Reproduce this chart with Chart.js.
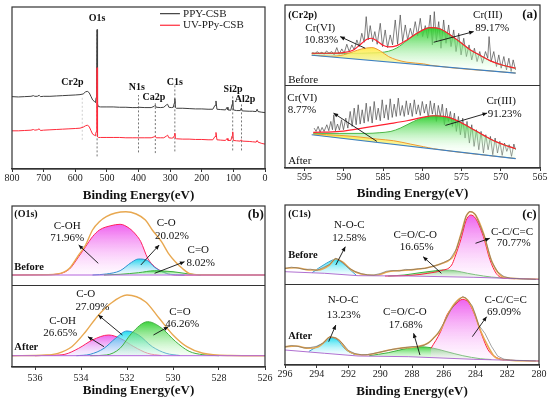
<!DOCTYPE html>
<html>
<head>
<meta charset="utf-8">
<script src="https://cdn.jsdelivr.net/npm/chart.js@4.4.0/dist/chart.umd.min.js"></script>
<style>
  html, body { margin: 0; padding: 0; background: #fff; }
  #wrap { position: relative; width: 550px; height: 403px; }
  #wrap canvas { position: absolute; left: 0; top: 0; }
</style>
</head>
<body>
<div id="wrap">
  <canvas id="survey" width="550" height="403"></canvas>
  <canvas id="cr2p" width="550" height="403"></canvas>
  <canvas id="o1s" width="550" height="403"></canvas>
  <canvas id="c1s" width="550" height="403"></canvas>
</div>
<script>
// ---- survey spectrum ----
const surveyEv = [800,780,760,740,732,728,720,714,710,700,680,660,640,620,600,585,575,568,562,556,550,545,540,536,534,532,531,530,529,527,520,500,480,460,440,420,405,400,380,360,350,347,344,330,320,312,308,304,296,290,287,285,283,280,260,240,220,200,180,165,158,155,152,140,125,120,117,108,104,102,100,90,78,75,72,50,40,28,25,22,10,0];
const ppyCsb = [218,217,218,219,221,219,219,222,218,219,219,220,221,222,223,224,226,232,234,230,218,208,204,200,215,320,420,300,196,188,187,187,187,186,186,185,185,186,185,185,189,192,186,185,186,193,195,186,185,186,198,212,185,183,183,182,181,181,180,180,192,205,180,179,178,186,178,177,195,207,178,176,176,183,175,174,174,173,180,173,171,170];
const uvPpyCsb = [115,115,116,117,119,117,118,121,116,117,118,119,120,121,122,123,126,130,132,128,115,105,102,100,112,210,305,200,97,95,95,95,95,95,94,94,94,94,94,94,97,99,94,94,94,99,102,94,93,94,100,108,92,91,90,90,89,89,88,88,98,110,88,87,86,92,86,86,100,112,86,85,84,88,84,83,82,81,86,81,77,75];
const guideEv = [578,531,400,347,285,102,74];
const guideTop = [218,418,223,198,253,223,198];
const guideBottom = [88,38,50,48,53,56,56];
const surveyTicks = [800,700,600,500,400,300,200,100,0];

// ---- Cr2p ----
const crBaseEv = [594.1,568.1];
const crBefBase = [339,285];
const crAftBase = [100,28];
const crBefEnvEv = [594.1,591.75,590.05,588.77,587.71,587.07,586.43,585.79,584.94,584.3,583.24,581.96,580.68,578.98,577.7,576.43,575.15,573.87,572.59,571.32,569.61,568.12];
const crBefEnv = [345,345,347,355,375,387,390,382,368,364,368,385,405,422,418,400,378,355,338,322,308,300];
const crBefIIIEv = [594.1,591.75,590.05,587.71,586.43,585.37,584.3,583.24,581.96,580.68,578.98,577.7,576.43,575.15,573.87,572.59,571.32,569.61,568.12];
const crBefIII = [345,345,345,345,346,347,351,361,383,405,422,418,400,378,355,338,322,308,300];
const crBefVIEv = [594.1,591.75,590.05,588.77,587.71,586.43,585.37,584.3,583.24,581.96,579.83,578.98,568.1];
const crBefVI = [339.5,336,340,350,358,362,352,335,325,318,313,309,285.5];
const crBefRawEv = [594.0,593.7,593.4,593.1,592.8,592.5,592.2,591.9,591.54,591.24,590.9,590.6,590.26,589.96,589.62,589.32,588.98,588.68,588.34,588.05,587.71,587.41,587.15,586.9,586.64,586.34,586.05,585.75,585.36,585.07,584.73,584.43,584.09,583.79,583.45,583.15,582.81,582.51,582.17,581.87,581.53,581.24,580.9,580.6,580.26,579.96,579.62,579.32,578.98,578.72,578.47,578.21,577.91,577.62,577.28,576.98,576.64,576.34,576.0,575.7,575.36,575.06,574.72,574.38,574.04,573.7,573.36,573.02,572.68,572.34,571.95,571.66,571.49,571.23,570.89,570.55,570.25,569.95,569.61,569.27,568.97,568.68,568.42,568.12];
const crBefRaw = [347,343,350,344,348,342,352,345,350,340,362,342,358,345,372,350,370,355,385,365,405,378,455,385,428,380,410,372,435,365,415,362,400,370,445,372,460,380,430,385,420,395,440,398,450,395,428,390,460,370,470,380,440,360,445,375,430,365,415,350,405,340,390,335,370,325,360,320,350,315,350,330,395,320,350,305,340,300,335,295,330,290,325,295];
const crAftEnvEv = [593.9,590.5,587.07,584.51,581.96,579.83,578.55,577.27,576.0,574.72,573.44,572.17,570.89,569.61,568.12];
const crAftEnv = [107,110,122,132,142,153,157,155,147,132,115,98,82,70,58];
const crAftIIIEv = [593.9,590.5,587.07,585.5,584.0,582.8,581.1,579.83,578.55,577.27,576.0,574.72,573.44,572.17,570.89,569.61,568.12];
const crAftIII = [104,104,104,106,110,120,140,152,157,155,147,132,115,98,82,70,58];
const crAftVIEv = [593.9,590.5,587.92,585.79,583.66,581.53,579.83,578.55,568.1];
const crAftVI = [102,98,93,87,82,72,64,58,28.5];
const crAftRawEv = [593.79,593.54,593.28,593.03,592.77,592.52,592.17,591.92,591.66,591.45,591.28,591.07,590.81,590.56,590.3,590.05,589.75,589.49,589.19,588.94,588.68,588.43,588.17,587.92,587.66,587.41,587.15,586.9,586.64,586.39,586.13,585.87,585.62,585.36,585.11,584.85,584.6,584.34,584.09,583.83,583.58,583.32,583.06,582.81,582.55,582.3,582.04,581.79,581.53,581.28,581.02,580.77,580.51,580.26,580.0,579.74,579.49,579.23,578.98,578.72,578.47,578.21,577.96,577.7,577.45,577.19,576.93,576.68,576.42,576.17,575.91,575.66,575.4,575.15,574.85,574.55,574.3,574.0,573.7,573.4,573.1,572.8,572.51,572.21,571.91,571.61,571.32,571.02,570.72,570.42,570.12,569.82,569.53,569.23,568.93,568.63,568.33,568.12];
const crAftRaw = [120,110,125,108,122,110,130,112,140,115,160,112,132,114,145,115,150,120,170,125,180,130,190,132,175,135,195,140,185,135,200,145,180,142,205,150,190,145,208,152,192,155,210,158,188,155,202,160,195,155,205,162,190,158,200,165,192,150,202,162,195,140,188,155,192,130,180,140,170,125,165,110,155,100,150,90,140,75,130,65,115,55,110,45,100,55,95,40,90,45,80,38,75,50,70,35,72,55];
const crTicks = [595,590,585,580,575,570,565];

// ---- O1s ----
const oEdgeEv = [537,526];
const oBefBase = [92,92];
const oAftBase = [11.3,11.3];
const oBefEnvEv = [537,535.5,535.0,534.5,534.1,533.8,533.5,533.2,532.9,532.5,532.05,531.6,531.2,530.9,530.5,530.2,529.9,529.6,529.3,528.8,526];
const oBefEnv = [92,92.3,93,98.7,112,122,137,145.3,150.3,154,155.3,153,147,137,125.3,113.7,105.3,98.7,93.7,92.3,92];
const oBefCOHEv = [537,535.5,535.0,534.5,534.1,533.8,533.5,533.2,532.7,532.3,531.9,531.6,531.4,531.1,530.8,530.6,530.2,529.8,526];
const oBefCOH = [92,92.3,93,98,110.3,120.3,130.3,137,141.3,142.7,138.7,132,125.3,108.7,100.3,97,93,92,92];
const oBefCOEv = [533.5,532.9,532.3,531.8,531.5,531.1,530.8,530.3,529.9,529.5];
const oBefCO = [92,93,96.3,104.7,108,106.3,99.7,93.7,92.3,92];
const oBefCdOEv = [533,532.3,531.5,530.8,530.0,529.3,528.8];
const oBefCdO = [92,92.7,94.3,96.3,95.3,93,92];
const oAftEnvEv = [537,535.5,535.0,534.4,533.8,533.3,532.7,532.0,531.2,530.6,530.0,529.4,528.7,527.5,526];
const oAftEnv = [11.3,12,13.7,20.3,35.3,50.3,63.7,72,65.3,48.7,32,20.3,13.7,11.5,11.3];
const oAftCOHEv = [536,535.2,534.7,534.1,533.5,532.8,532.3,531.7,531.1,530.5];
const oAftCOH = [11.3,11.8,12.7,18.7,27,32,28.7,20.3,13.7,11.5];
const oAftCOEv = [534.2,533.6,533.0,532.5,532.0,531.5,530.9,530.3,529.7];
const oAftCO = [11.3,12.7,18.7,28.7,36,32,20.3,13.7,11.5];
const oAftCdOEv = [533.6,532.9,532.3,531.8,531.1,530.5,529.9,529.3,528.7,528.0];
const oAftCdO = [11.3,12,18.7,33.7,45.3,39,25.7,15.7,12.3,11.3];
const oTicks = [536,534,532,530,528,526];

// ---- C1s ----
const cBaseEv = [296,293.5,291.4,288.2,284.1,280];
const cBefBase = [93.3,91.7,89.3,89,87.7,85.7];
const cAftBase = [15,11.7,9,8.3,5.7,4];
const cBefEnvEv = [296,295.3,294.5,293.9,293.2,292.8,292.4,291.8,291.2,290.3,289.5,288.2,287.2,286.2,285.5,285.3,284.9,284.6,284.3,284.0,283.5,283.1,282.7,282.2,281,280];
const cBefEnv = [96.7,97.3,95,95,100,106.3,103.3,95,91,89.7,93.3,95,96.7,101,106.7,111.7,131.7,148.3,153.3,150,131.7,109,95,87.7,86.2,85.7];
const cBefNOCEv = [294.3,293.9,293.4,293.1,292.8,292.4,292.0,291.5];
const cBefNOC = [92.2,96.7,101.7,104.3,106,102.3,96.7,89.6];
const cBefCOEv = [289.5,288.5,287.5,286.5,286.0,285.3,284.5,283.5,282.5,282.0];
const cBefCO = [89,90,92.3,94.3,95,94.3,91.7,89,87.3,87.2];
const cBefCCEv = [289.7,288.0,287.0,286.2,285.5,285.3,284.9,284.6,284.3,284.0,283.5,283.1,282.7,282.2,281.5];
const cBefCC = [89,89.7,91.7,94.3,100,107.7,126.7,144.3,150,146.7,128.3,105.7,91.7,86.7,86.3];
const cRawEv = [296,295.6,295.2,294.8,294.4,294.0,293.6,293.2,292.8,292.4,292.0,291.6,291.2,290.8,290.4,290.0,289.6,289.2,288.8,288.4,288.0,287.6,287.2,286.8,286.4,286.0,285.6,285.2,284.8,284.6,284.4,284.2,284.0,283.8,283.4,283.0,282.6,282.2,281.8,281.4,281.0,280.6,280.2];
const cBefRaw = [96.5,97.8,97,95.5,95.8,94.6,97.5,100.5,106.8,103,97.2,93.5,91.4,90.2,90,91.5,93.8,94.5,94,95.6,95.2,96.4,96.5,98.3,100,102.5,105.8,116,136,149,153.5,153,150.5,143,127,104,93,88.4,86.8,86.5,86,85.9,85.6];
const cAftEnvEv = [296,295.3,294.5,293.9,293.5,293.2,293.0,292.6,292.1,291.6,290.9,290.5,289.9,288.8,287.7,287.0,286.6,286.2,285.7,285.3,284.8,284.5,284.1,283.7,283.2,282.8,282.2,280];
const cAftEnv = [18.3,19,16.7,18.3,23.3,27.7,27.7,25,15,11,10,11,13.3,16.7,18.3,21.7,27.7,35,51.7,61.7,67.7,65,53.3,35,18.3,8.3,5,4];
const cAftNOCEv = [294.5,294.0,293.5,293.1,292.7,292.2,291.6];
const cAftNOC = [13.5,18.3,22.7,27.3,25,15.7,10.3];
const cAftCOEv = [290.7,289.5,288.5,287.6,286.8,285.8,284.8,283.7,283.0];
const cAftCO = [9.3,12.3,16,18.3,17.3,13.3,9.3,6.3,5.5];
const cAftCCEv = [286.8,286.2,285.8,285.3,284.8,284.4,284.0,283.6,283.2,282.7,282.2];
const cAftCC = [16.7,33.3,50,60,65.7,61.7,48.3,30,15,7.7,5];
const cAftRaw = [18,19.5,18.6,17,17.5,18.8,22,28.3,27,22,14.5,11.5,10.3,10.5,11.6,13,14.3,15.8,16.5,17.6,18.5,18.2,20,24,31,42,54,63,68.5,66.8,63,59,50,40,31.5,18.8,8.8,5.8,5,4.6,4.5,4.3,4.1];
const cTicks = [296,294,292,290,288,286,284,282,280];

const SERIF = '"Liberation Serif", "Times New Roman", serif';
Chart.defaults.font.family = SERIF;

function xy(xs, ys) {
  return xs.map(function (x, i) { return { x: x, y: ys[i] }; });
}

function series(xs, ys, color, extra) {
  const ds = { data: xy(xs, ys), borderColor: color, borderWidth: 1, pointRadius: 0, fill: false, tension: 0 };
  return Object.assign(ds, extra || {});
}

// vertical gradient from the curve's top down to its base
function shade(top, bottom) {
  return function (ctx) {
    const chart = ctx.chart;
    if (!chart.chartArea || !ctx.dataset) return top;
    const ys = ctx.dataset.data.map(function (p) { return p.y; });
    const sy = chart.scales.y;
    const y0 = sy.getPixelForValue(Math.max.apply(null, ys));
    let y1 = sy.getPixelForValue(Math.min.apply(null, ys));
    if (y1 - y0 < 1) y1 = y0 + 1;
    const g = chart.ctx.createLinearGradient(0, y0, 0, y1);
    g.addColorStop(0, top);
    g.addColorStop(1, bottom);
    return g;
  };
}

function peak(xs, ys, line, top, bottom, base, order) {
  return series(xs, ys, line, {
    fill: base, backgroundColor: shade(top, bottom),
    cubicInterpolationMode: 'monotone', order: order
  });
}

function smooth(xs, ys, line, width, order) {
  return series(xs, ys, line, { borderWidth: width, cubicInterpolationMode: 'monotone', order: order });
}

// frame, divider, labels and arrows drawn in data coordinates
function notes(spec) {
  return {
    id: 'notes',
    afterDatasetsDraw: function (chart) {
      const c = chart.ctx, a = chart.chartArea, sx = chart.scales.x, sy = chart.scales.y;
      c.save();
      c.strokeStyle = '#333';
      c.lineWidth = 1.2;
      c.strokeRect(a.left, a.top, a.width, a.height);
      if (spec.divider !== undefined) {
        const dy = Math.round(sy.getPixelForValue(spec.divider)) + 0.5;
        c.beginPath(); c.moveTo(a.left, dy); c.lineTo(a.right, dy); c.stroke();
      }
      c.lineWidth = 0.9;
      c.strokeStyle = '#111';
      c.fillStyle = '#111';
      (spec.arrows || []).forEach(function (r) {
        const x1 = sx.getPixelForValue(r[0]), y1 = sy.getPixelForValue(r[1]);
        const x2 = sx.getPixelForValue(r[2]), y2 = sy.getPixelForValue(r[3]);
        c.beginPath(); c.moveTo(x1, y1); c.lineTo(x2, y2); c.stroke();
        const ang = Math.atan2(y2 - y1, x2 - x1), L = 5;
        c.beginPath();
        c.moveTo(x2, y2);
        c.lineTo(x2 - L * Math.cos(ang - 0.42), y2 - L * Math.sin(ang - 0.42));
        c.lineTo(x2 - L * Math.cos(ang + 0.42), y2 - L * Math.sin(ang + 0.42));
        c.closePath(); c.fill();
      });
      (spec.labels || []).forEach(function (l) {
        c.font = (l.b ? 'bold ' : '') + (l.s || 11) + 'px ' + SERIF;
        c.textAlign = l.al || 'center';
        c.textBaseline = 'middle';
        c.fillStyle = '#111';
        c.fillText(l.t, sx.getPixelForValue(l.x), sy.getPixelForValue(l.y));
      });
      if (spec.extra) spec.extra(chart, c);
      c.restore();
    }
  };
}

function makeChart(id, p) {
  return new Chart(document.getElementById(id), {
    type: 'line',
    data: { datasets: p.datasets },
    options: {
      responsive: false,
      animation: false,
      events: [],
      layout: { padding: p.pad },
      plugins: { legend: { display: false }, tooltip: { enabled: false } },
      scales: {
        x: {
          type: 'linear', reverse: true, min: p.xmin, max: p.xmax,
          afterBuildTicks: function (s) { s.ticks = p.ticks.map(function (v) { return { value: v }; }); },
          afterFit: function (s) { s.height = p.axisH; },
          ticks: { font: { family: SERIF, size: 10 }, color: '#222', padding: p.tickPad, maxRotation: 0, autoSkip: false },
          grid: { display: true, drawOnChartArea: false, drawTicks: true, tickLength: 3, color: '#333' },
          border: { display: true, color: '#333', width: 1.2 },
          title: { display: true, text: 'Binding Energy(eV)', color: '#111', font: { family: SERIF, size: 13, weight: 'bold' }, padding: { top: 0, bottom: 0 } }
        },
        y: { display: false, min: 0, max: p.ymax }
      }
    },
    plugins: [notes(p.notes)]
  });
}

// ---------- survey ----------
const surveySets = [
  series(surveyEv, uvPpyCsb, '#ff2a3a', { order: 1 }),
  series(surveyEv, ppyCsb, '#404040', { order: 2 })
];
guideEv.forEach(function (ev, i) {
  surveySets.push(series([ev, ev], [guideBottom[i], guideTop[i]], i === 0 ? '#c4c4c4' : '#555',
    { borderDash: [2, 2], borderWidth: 0.8, order: 3 }));
});
makeChart('survey', {
  datasets: surveySets, xmin: 0, xmax: 800, ticks: surveyTicks, ymax: 488,
  pad: { left: 12, right: 285, top: 7, bottom: 200 }, axisH: 34, tickPad: 0,
  notes: {
    labels: [
      { t: 'O1s', x: 531, y: 453, b: true, s: 10 },
      { t: 'Cr2p', x: 609, y: 261, b: true, s: 10 },
      { t: 'N1s', x: 405, y: 246, b: true, s: 10 },
      { t: 'Ca2p', x: 351, y: 216, b: true, s: 10 },
      { t: 'C1s', x: 285, y: 261, b: true, s: 10 },
      { t: 'Si2p', x: 101, y: 240, b: true, s: 10 },
      { t: 'Al2p', x: 63, y: 210, b: true, s: 10 }
    ],
    extra: function (chart, c) {
      const sx = chart.scales.x, sy = chart.scales.y;
      const items = [['PPY-CSB', '#404040', 468], ['UV-PPy-CSB', '#ff2a3a', 433]];
      items.forEach(function (it) {
        const yy = sy.getPixelForValue(it[2]);
        c.strokeStyle = it[1]; c.lineWidth = 1.2;
        c.beginPath(); c.moveTo(sx.getPixelForValue(332), yy); c.lineTo(sx.getPixelForValue(269), yy); c.stroke();
        c.font = '11px ' + SERIF; c.textAlign = 'left'; c.textBaseline = 'middle'; c.fillStyle = '#222';
        c.fillText(it[0], sx.getPixelForValue(259), yy);
      });
    }
  }
});

// ---------- Cr2p ----------
const GREEN_TOP = 'rgba(40,205,40,0.95)', GREEN_BOT = 'rgba(225,255,225,0.25)';
const YEL_TOP = 'rgba(255,235,70,0.95)', YEL_BOT = 'rgba(255,250,200,0.4)';
makeChart('cr2p', {
  datasets: [
    series(crBaseEv, crBefBase, '#3d80c4', { borderWidth: 1.2, order: 2 }),
    series(crBaseEv, crAftBase, '#3d80c4', { borderWidth: 1.2, order: 2 }),
    peak(crBefIIIEv, crBefIII, '#4cb848', GREEN_TOP, GREEN_BOT, 0, 6),
    peak(crBefVIEv, crBefVI, '#f09a30', YEL_TOP, YEL_BOT, 0, 5),
    smooth(crBefEnvEv, crBefEnv, '#ff2030', 1.2, 3),
    series(crBefRawEv, crBefRaw, '#4a4a4a', { borderWidth: 0.7, order: 7 }),
    peak(crAftIIIEv, crAftIII, '#4cb848', GREEN_TOP, GREEN_BOT, 1, 6),
    peak(crAftVIEv, crAftVI, '#f09a30', YEL_TOP, YEL_BOT, 1, 5),
    smooth(crAftEnvEv, crAftEnv, '#ff2030', 1.2, 3),
    series(crAftRawEv, crAftRaw, '#4a4a4a', { borderWidth: 0.7, order: 7 })
  ],
  xmin: 565, xmax: 597.5, ticks: crTicks, ymax: 490,
  pad: { left: 285, right: 10, top: 5, bottom: 202 }, axisH: 33, tickPad: 0,
  notes: {
    divider: 250,
    labels: [
      { t: '(Cr2p)', x: 597.1, y: 460, b: true, s: 10, al: 'left' },
      { t: '(a)', x: 566.3, y: 460, b: true, s: 13 },
      { t: 'Cr(VI)', x: 593.0, y: 420 },
      { t: '10.83%', x: 592.9, y: 385 },
      { t: 'Cr(III)', x: 571.66, y: 460 },
      { t: '89.17%', x: 571.1, y: 422 },
      { t: 'Before', x: 597.1, y: 265, al: 'left' },
      { t: 'Cr(VI)', x: 595.3, y: 210 },
      { t: '8.77%', x: 595.35, y: 175 },
      { t: 'Cr(III)', x: 569.95, y: 200 },
      { t: '91.23%', x: 569.5, y: 162 },
      { t: 'After', x: 597.1, y: 20, al: 'left' }
    ],
    arrows: [
      [587.28, 360, 590.47, 395],
      [578.55, 378, 573.45, 410],
      [585.79, 80, 591.32, 165],
      [577.06, 128, 571.74, 165]
    ]
  }
});

// ---------- O1s ----------
const PINK_TOP = 'rgba(235,70,235,0.85)', PINK_BOT = 'rgba(255,235,255,0.3)';
const CYAN_TOP = 'rgba(0,215,235,0.85)', CYAN_BOT = 'rgba(220,250,255,0.3)';
const LIME_TOP = 'rgba(40,205,40,0.9)', LIME_BOT = 'rgba(225,255,225,0.3)';
makeChart('o1s', {
  datasets: [
    series(oEdgeEv, oBefBase, '#b464dc', { borderWidth: 1, order: 1 }),
    series(oEdgeEv, oAftBase, '#b464dc', { borderWidth: 1, order: 1 }),
    peak(oBefCOHEv, oBefCOH, '#ff2060', PINK_TOP, PINK_BOT, 0, 5),
    peak(oBefCOEv, oBefCO, '#2f8fd0', CYAN_TOP, CYAN_BOT, 0, 4),
    peak(oBefCdOEv, oBefCdO, '#40b040', LIME_TOP, LIME_BOT, 0, 3),
    smooth(oBefEnvEv, oBefEnv, '#e8a850', 1.4, 2),
    peak(oAftCOHEv, oAftCOH, '#ff2060', PINK_TOP, 'rgba(225,215,255,0.3)', 1, 5),
    peak(oAftCOEv, oAftCO, '#2f8fd0', CYAN_TOP, CYAN_BOT, 1, 4),
    peak(oAftCdOEv, oAftCdO, '#40b040', LIME_TOP, LIME_BOT, 1, 3),
    smooth(oAftEnvEv, oAftEnv, '#e8a850', 1.4, 2)
  ],
  xmin: 526, xmax: 537, ticks: oTicks, ymax: 161,
  pad: { left: 12, right: 285, top: 206, bottom: 5 }, axisH: 31, tickPad: 2,
  notes: {
    divider: 82,
    labels: [
      { t: '(O1s)', x: 536.9, y: 153, b: true, s: 10, al: 'left' },
      { t: '(b)', x: 526.4, y: 152, b: true, s: 13 },
      { t: 'C-OH', x: 534.6, y: 141 },
      { t: '71.96%', x: 534.6, y: 128.7 },
      { t: 'C-O', x: 530.3, y: 143.7 },
      { t: '20.02%', x: 530.05, y: 131.3 },
      { t: 'C=O', x: 528.9, y: 117 },
      { t: '8.02%', x: 528.8, y: 103.7 },
      { t: 'Before', x: 536.9, y: 100, b: true, s: 10.5, al: 'left' },
      { t: 'C-O', x: 533.8, y: 72.7 },
      { t: '27.09%', x: 533.5, y: 60.3 },
      { t: 'C-OH', x: 534.8, y: 45.5 },
      { t: '26.65%', x: 534.9, y: 34.3 },
      { t: 'C=O', x: 529.7, y: 54.7 },
      { t: '46.26%', x: 529.6, y: 42.7 },
      { t: 'After', x: 536.9, y: 20, b: true, s: 10.5, al: 'left' }
    ],
    arrows: [
      [533.25, 103.7, 534.1, 122],
      [531.4, 102, 530.6, 122],
      [530.8, 93.7, 529.5, 105.3],
      [532.2, 32, 533.25, 52],
      [533.0, 20.3, 533.7, 30.3],
      [530.85, 32, 530.2, 40.3]
    ]
  }
});

// ---------- C1s ----------
makeChart('c1s', {
  datasets: [
    series(cBaseEv, cBefBase, '#b070d0', { borderWidth: 1, order: 1 }),
    series(cBaseEv, cAftBase, '#b070d0', { borderWidth: 1, order: 1 }),
    peak(cBefNOCEv, cBefNOC, '#3aa0d0', CYAN_TOP, CYAN_BOT, 0, 4),
    peak(cBefCOEv, cBefCO, '#40b040', LIME_TOP, LIME_BOT, 0, 5),
    peak(cBefCCEv, cBefCC, '#ff2040', PINK_TOP, PINK_BOT, 0, 3),
    smooth(cBefEnvEv, cBefEnv, '#e8a850', 1.6, 2),
    series(cRawEv, cBefRaw, '#666', { borderWidth: 0.6, order: 0 }),
    peak(cAftNOCEv, cAftNOC, '#3aa0d0', CYAN_TOP, CYAN_BOT, 1, 4),
    peak(cAftCOEv, cAftCO, '#40b040', LIME_TOP, LIME_BOT, 1, 5),
    peak(cAftCCEv, cAftCC, '#ff2040', PINK_TOP, PINK_BOT, 1, 3),
    smooth(cAftEnvEv, cAftEnv, '#e8a850', 1.6, 2),
    series(cRawEv, cAftRaw, '#666', { borderWidth: 0.6, order: 0 })
  ],
  xmin: 280, xmax: 296, ticks: cTicks, ymax: 160,
  pad: { left: 285, right: 11, top: 205, bottom: 4 }, axisH: 34, tickPad: 0,
  notes: {
    divider: 80.7,
    labels: [
      { t: '(C1s)', x: 295.8, y: 151, b: true, s: 10, al: 'left' },
      { t: '(c)', x: 280.6, y: 150, b: true, s: 13 },
      { t: 'N-O-C', x: 291.95, y: 140 },
      { t: '12.58%', x: 291.95, y: 126.7 },
      { t: 'C=O/C-O', x: 287.8, y: 130 },
      { t: '16.65%', x: 287.7, y: 118.3 },
      { t: 'C-C/C=C', x: 281.7, y: 133.3 },
      { t: '70.77%', x: 281.6, y: 121.7 },
      { t: 'Before', x: 295.8, y: 110, b: true, s: 10.5, al: 'left' },
      { t: 'N-O-C', x: 292.35, y: 65 },
      { t: '13.23%', x: 292.3, y: 50 },
      { t: 'C=O/C-O', x: 288.45, y: 53.3 },
      { t: '17.68%', x: 288.4, y: 40 },
      { t: 'C-C/C=C', x: 282.1, y: 65 },
      { t: '69.09%', x: 282.2, y: 53.3 },
      { t: 'After', x: 295.8, y: 28.3, b: true, s: 10.5, al: 'left' }
    ],
    arrows: [
      [292.8, 100, 292.2, 118.3],
      [286.15, 91.7, 287.3, 108.3],
      [284.0, 121.7, 283.1, 126.7],
      [293.25, 23.3, 292.8, 40],
      [287.5, 10, 287.9, 31.7],
      [284.2, 28.3, 283.3, 48.3]
    ]
  }
});
</script>
</body>
</html>
